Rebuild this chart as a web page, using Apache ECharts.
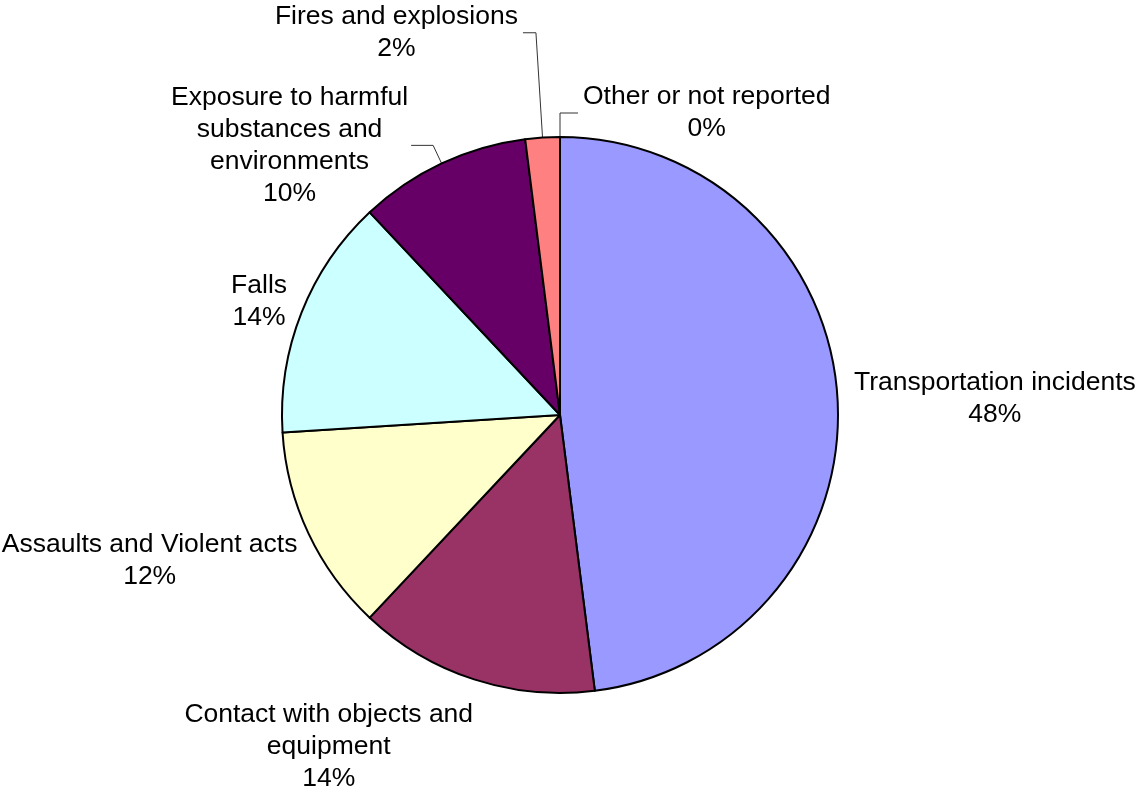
<!DOCTYPE html>
<html>
<head>
<meta charset="utf-8">
<title>Fatal occupational injuries by event</title>
<script src="https://cdn.jsdelivr.net/npm/echarts@6/dist/echarts.min.js"></script>
<style>
  html, body { margin: 0; padding: 0; background: #ffffff; }
  #chart { width: 1138px; height: 791px; }
</style>
</head>
<body>
<div id="chart"></div>
<script>
// Share of fatal injuries by event or exposure, clockwise from 12 o'clock.
// "Other" has a zero share and sits at the very top of the pie.
const categories = [
  'Other or not reported',
  'Transportation incidents',
  'Contact with objects and\nequipment',
  'Assaults and Violent acts',
  'Falls',
  'Exposure to harmful\nsubstances and\nenvironments',
  'Fires and explosions'
];
const shares = [0, 48, 14, 12, 14, 10, 2];

const sliceColors = ['#0066CC', '#9999FF', '#993366', '#FFFFCC', '#CCFFFF', '#660066', '#FF8080'];

// Leader-line settings per slice: [show, length, length2, gap to text]
const leaders = [
  [true, 24, 18, 5],
  [false, 0, 0, 5],
  [false, 0, 0, 5],
  [false, 0, 0, 5],
  [false, 0, 0, 5],
  [true, 20, 22, 3],
  [true, 105, 13, 5]
];
// Extra label shifts for the labels that sit next to the rim without a line
const labelShift = [
  [0, 0],
  [11.5, 1],
  [4, 67],
  [-6, 27],
  [-9.5, -10.7],
  [0, 0],
  [0, 0]
];
// Labels whose leader line should turn to the right of the bend
const turnRight = [true, false, false, false, false, false, false];

const FONT = '"Liberation Sans", Arial, Helvetica, sans-serif';
const FONT_SIZE = 26.5;

const pieData = categories.map((name, i) => ({
  name: name,
  value: shares[i],
  itemStyle: { color: sliceColors[i] },
  labelLine: {
    show: leaders[i][0],
    length: leaders[i][1],
    length2: leaders[i][2]
  },
  label: { distanceToLabelLine: leaders[i][3] }
}));

const chart = echarts.init(document.getElementById('chart'), null, { renderer: 'canvas' });

chart.setOption({
  backgroundColor: '#ffffff',
  animation: false,
  series: [{
    type: 'pie',
    center: [560, 415],
    radius: 278,
    startAngle: 90,
    clockwise: true,
    avoidLabelOverlap: false,
    minShowLabelAngle: 0,
    data: pieData,
    itemStyle: {
      borderColor: '#000000',
      borderWidth: 2
    },
    emphasis: { disabled: true },
    label: {
      show: true,
      position: 'outside',
      alignTo: 'none',
      color: '#000000',
      fontFamily: FONT,
      fontSize: FONT_SIZE,
      formatter: function (p) {
        const lines = p.name.split('\n');
        lines.push(Math.round(p.value) + '%');
        return lines.map(l => '{t|' + l + '}').join('\n');
      },
      rich: {
        t: {
          fontFamily: FONT,
          fontSize: FONT_SIZE,
          lineHeight: 32,
          color: '#000000',
          align: 'center'
        }
      }
    },
    labelLine: {
      lineStyle: { color: '#333333', width: 1 },
      smooth: false
    },
    labelLayout: function (params) {
      const i = params.dataIndex;
      const pts = params.labelLinePoints;
      if (turnRight[i] && pts && pts.length === 3) {
        const bend = pts[1];
        const end = [bend[0] + Math.abs(pts[2][0] - bend[0]), pts[2][1]];
        return {
          x: end[0] + leaders[i][3],
          y: end[1],
          align: 'left',
          verticalAlign: 'middle',
          labelLinePoints: [pts[0], bend, end]
        };
      }
      const s = labelShift[i];
      return { dx: s[0], dy: s[1] };
    }
  }]
});
</script>
</body>
</html>
